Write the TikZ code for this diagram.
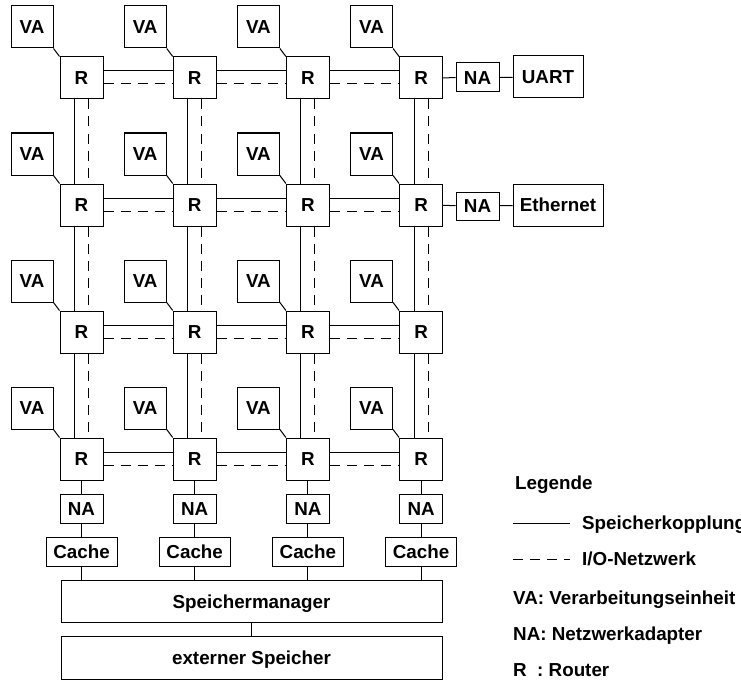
\documentclass[tikz,border=0pt]{standalone}
\usepackage{fontspec}
\setmainfont{Liberation Sans}
\begin{document}
\begin{tikzpicture}[x=1pt,y=-1pt,
  txt/.style={font=\fontsize{18.8}{22}\selectfont\bfseries, text height=13.5pt, text depth=0pt},
  box/.style={txt, draw, line width=1pt, inner sep=0pt},
  rbox/.style={box, minimum width=43pt, minimum height=42pt},
  vabox/.style={box, minimum width=42pt, minimum height=42pt},
  nabox/.style={box, minimum width=43pt, minimum height=28.5pt},
  cachebox/.style={box, minimum width=71pt, minimum height=29pt},
  widebox/.style={box, minimum width=381pt, minimum height=42.5pt},
  link/.style={line width=1pt},
  io/.style={line width=1pt, dash pattern=on 10pt off 7pt},
  lbl/.style={txt, inner sep=0pt, anchor=west}
]
\useasboundingbox (0,0) rectangle (741,682);
% routers and processing units
\foreach \i/\x in {1/81.5,2/194.7,3/307.9,4/421.1} {
  \foreach \j/\y in {1/78,2/205,3/332,4/459} {
    \node[rbox] (r\j\i) at (\x,\y) {R};
    \node[vabox] (va\j\i) at (\x-49.5,\y-51) {VA};
    \draw[link] (va\j\i.south east) -- (r\j\i.north west);
  }
}
% horizontal links
\foreach \j in {1,2,3,4} {
  \foreach \i/\k in {1/2,2/3,3/4} {
    \draw[link] ([yshift=7pt]r\j\i.east) -- ([yshift=7pt]r\j\k.west);
    \draw[io] ([yshift=-6pt]r\j\i.east) -- ([yshift=-6pt]r\j\k.west);
  }
}
% vertical links
\foreach \i in {1,2,3,4} {
  \foreach \j/\k in {1/2,2/3,3/4} {
    \draw[link] ([xshift=-7pt]r\j\i.south) -- ([xshift=-7pt]r\k\i.north);
    \draw[io] ([xshift=7pt]r\j\i.south) -- ([xshift=7pt]r\k\i.north);
  }
}
% memory
\node[widebox] (sm) at (251.5,601.5) {Speichermanager};
\node[widebox] (ext) at (251.5,658) {externer Speicher};
\draw[link] (sm) -- (ext);
\foreach \i/\x in {1/81.5,2/194.7,3/307.9,4/421.1} {
  \node[nabox] (nb\i) at (\x,509) {NA};
  \node[cachebox] (c\i) at (\x,551.5) {Cache};
  \draw[link] (r4\i) -- (nb\i) -- (c\i);
  \draw[link] (c\i.south) -- (c\i.south |- sm.north);
}
% peripherals
\node[nabox, minimum height=29pt] (nu) at (477.5,77.5) {NA};
\node[box, minimum width=70pt, minimum height=42pt] (uart) at (548,77) {UART};
\draw[link] (r14) -- (nu) -- (uart);
\node[nabox, minimum height=28pt] (ne) at (477.5,206) {NA};
\node[box, minimum width=90pt, minimum height=42pt] (eth) at (558,205) {Ethernet};
\draw[link] (r24) -- (ne) -- (eth);
% legend
\node[lbl] (leg) at (515,483) {Legende};
\coordinate (sa) at (513,523);
\coordinate (sb) at (570,523);
\draw[link] (sa) -- (sb);
\node[lbl] (lsk) at (582,523) {Speicherkopplung};
\coordinate (da) at (513,559);
\coordinate (db) at (570,559);
\draw[io] (da) -- (db);
\node[lbl] (lio) at (582,559) {I/O-Netzwerk};
\node[lbl] (lva) at (513,598) {VA: Verarbeitungseinheit};
\node[lbl] (lna) at (513,634) {NA: Netzwerkadapter};
\node[lbl] (lr) at (513,670) {R\ \ : Router};
\end{tikzpicture}
\end{document}
